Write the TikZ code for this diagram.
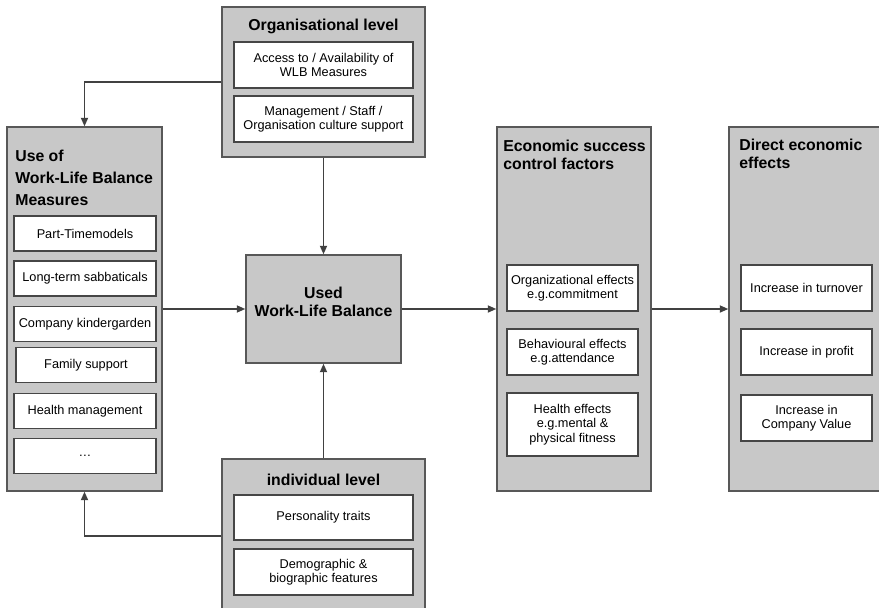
\documentclass[tikz,border=0pt]{standalone}
\usepackage{fontspec}
\setmainfont{Liberation Sans}
\usetikzlibrary{positioning, arrows.meta}
\definecolor{wlbgrey}{RGB}{200, 200, 200}
\definecolor{wlbline}{RGB}{88, 88, 88}
\definecolor{wlbitem}{RGB}{70, 70, 70}
\definecolor{wlbarrow}{RGB}{65, 65, 65}

\begin{document}
\begin{tikzpicture}[x=0.02cm, y=-0.02cm,
    groupbox/.style={draw=wlbline, line width=0.8pt, fill=wlbgrey, inner sep=0pt},
    itembox/.style={draw=wlbitem, line width=0.8pt, fill=white, inner sep=0pt, align=center,
      font=\fontsize{7.25}{8.3}\selectfont},
    grouptitle/.style={inner sep=0pt, font=\fontsize{9}{10.2}\selectfont\bfseries},
    arr/.style={draw=wlbarrow, line width=0.95pt, -{Triangle[length=1.7mm, width=1.4mm]}}]

    \clip (0,0) rectangle (879,608);

    % outer grey boxes
    \node[groupbox, minimum width=3.1cm, minimum height=7.28cm] (usebox) at (84.5,309) {};
    \node[groupbox, minimum width=4.06cm, minimum height=3cm] (orgbox) at (323.5,82) {};
    \node[groupbox, minimum width=3.1cm, minimum height=2.16cm] (usedbox) at (323.5,309) {};
    \node[groupbox, minimum width=4.06cm, minimum height=3.08cm] (indbox) at (323.5,536) {};
    \node[groupbox, minimum width=3.08cm, minimum height=7.28cm] (econbox) at (574,309) {};
    \node[groupbox, minimum width=3.32cm, minimum height=7.28cm] (directbox) at (812,309) {};

    % titles
    \node[grouptitle, anchor=base] (orgtitle) at (323.5,31) {Organisational level};
    \node[grouptitle, anchor=base] (indtitle) at (323.5,485) {individual level};
    \node[grouptitle, anchor=north west, align=left, font=\fontsize{9}{12.5}\selectfont\bfseries] (usetitle) at (15,150)
      {Use of\\Work-Life Balance\\Measures};
    \node[grouptitle, anchor=north west, align=left] (econtitle) at (503,140)
      {Economic success\\control factors};
    \node[grouptitle, anchor=north west, align=left] (directtitle) at (739,139)
      {Direct economic\\effects};
    \node[grouptitle, align=center] (usedtitle) at (323.5,302) {Used\\Work-Life Balance};

    % organisational level
    \node[itembox, minimum width=3.58cm, minimum height=0.92cm] (access) at (323.5,65)
      {Access to / Availability of\\WLB Measures};
    \node[itembox, minimum width=3.58cm, minimum height=0.92cm] (culture) at (323.5,119)
      {Management / Staff /\\Organisation culture support};

    % use of measures
    \node[itembox, minimum width=2.84cm, minimum height=0.7cm] (parttime) at (85,233.5) {Part-Timemodels};
    \node[itembox, minimum width=2.84cm, minimum height=0.7cm] (sabbat) at (85,278.5) {Long-term sabbaticals};
    \node[itembox, minimum width=2.84cm, minimum height=0.7cm] (kinder) at (85,324) {Company kindergarden};
    \node[itembox, minimum width=2.8cm, minimum height=0.7cm] (family) at (86,365) {Family support};
    \node[itembox, minimum width=2.84cm, minimum height=0.7cm] (health) at (85,411) {Health management};
    \node[itembox, minimum width=2.84cm, minimum height=0.7cm] (more) at (85,456) {\dots};

    % individual level
    \node[itembox, minimum width=3.58cm, minimum height=0.9cm] (traits) at (323.5,517.5) {Personality traits};
    \node[itembox, minimum width=3.58cm, minimum height=0.92cm] (demo) at (323.5,572)
      {Demographic \&\\biographic features};

    % control factors
    \node[itembox, minimum width=2.62cm, minimum height=0.92cm] (orgeff) at (572.5,288)
      {Organizational effects\\e.g.commitment};
    \node[itembox, minimum width=2.62cm, minimum height=0.92cm] (beheff) at (572.5,352)
      {Behavioural effects\\e.g.attendance};
    \node[itembox, minimum width=2.62cm, minimum height=1.26cm] (healtheff) at (572.5,424.5)
      {Health effects\\e.g.mental \&\\physical fitness};

    % direct effects
    \node[itembox, minimum width=2.62cm, minimum height=0.92cm] (turnover) at (806.5,288) {Increase in turnover};
    \node[itembox, minimum width=2.62cm, minimum height=0.92cm] (profit) at (806.5,352) {Increase in profit};
    \node[itembox, minimum width=2.62cm, minimum height=0.92cm] (value) at (806.5,418)
      {Increase in\\Company Value};

    \draw[arr] (orgbox.west) -| (usebox.north);
    \draw[arr] (indbox.west) -| (usebox.south);
    \draw[arr] (orgbox.south) -- (usedbox.north);
    \draw[arr] (indbox.north) -- (usedbox.south);
    \draw[arr] (usebox) -- (usedbox);
    \draw[arr] (usedbox) -- (econbox);
    \draw[arr] (econbox) -- (directbox);
\end{tikzpicture}
\end{document}
